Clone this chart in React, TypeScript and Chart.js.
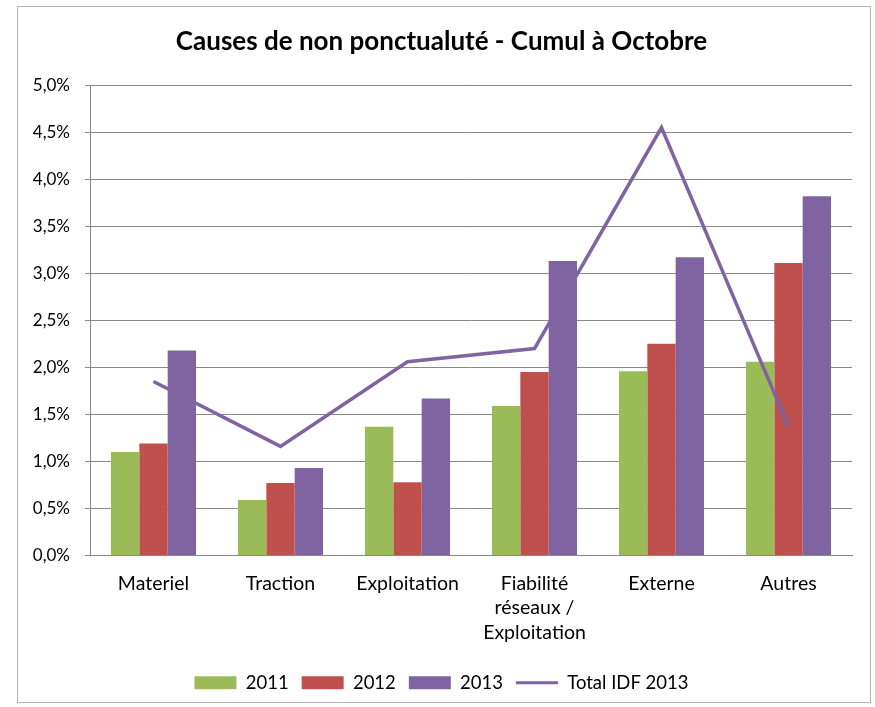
import React, { useEffect, useRef } from "react";
import { Chart, registerables } from "chart.js";

Chart.register(...registerables);

const categories: (string | string[])[] = [
  "Materiel",
  "Traction",
  "Exploitation",
  ["Fiabilité", "réseaux /", "Exploitation"],
  "Externe",
  "Autres",
];
const values2011 = [1.1, 0.59, 1.37, 1.59, 1.96, 2.06];
const values2012 = [1.19, 0.77, 0.78, 1.95, 2.25, 3.11];
const values2013 = [2.18, 0.93, 1.67, 3.13, 3.17, 3.82];
const totalIdf2013 = [1.85, 1.16, 2.06, 2.2, 4.55, 1.37];
const yTicksMax = 5;
const yTicksStep = 0.5;

const FONT = "Lato, 'Open Sans', sans-serif";
const GREEN = "#9BBB59";
const RED = "#C0504D";
const PURPLE = "#8064A2";
const GRID = "#888888";

export default function App() {
  const ref = useRef<HTMLCanvasElement | null>(null);

  useEffect(() => {
    if (!ref.current) return;
    const chart = new Chart(ref.current, {
      type: "bar",
      data: {
        labels: categories,
        datasets: [
          { type: "bar", label: "2011", data: values2011, backgroundColor: GREEN, order: 1 },
          { type: "bar", label: "2012", data: values2012, backgroundColor: RED, order: 1 },
          { type: "bar", label: "2013", data: values2013, backgroundColor: PURPLE, order: 1 },
          {
            type: "line",
            label: "Total IDF 2013",
            data: totalIdf2013,
            borderColor: PURPLE,
            backgroundColor: PURPLE,
            borderWidth: 3.5,
            pointRadius: 0,
            tension: 0,
            order: 0,
          } as any,
        ],
      },
      options: {
        responsive: false,
        animation: false,
        devicePixelRatio: 1,
        layout: { padding: { left: 31, right: 23, top: 0, bottom: 5 } },
        datasets: {
          bar: { categoryPercentage: 0.67, barPercentage: 1.0 },
        },
        plugins: {
          tooltip: { enabled: false },
          title: {
            display: true,
            text: "Causes de non ponctualuté - Cumul à Octobre",
            color: "#000",
            font: { family: FONT, size: 26, weight: "bold", lineHeight: 1.2 },
            padding: { top: 26, bottom: 28 },
          },
          legend: {
            position: "bottom",
            labels: {
              color: "#000",
              font: { family: FONT, size: 18.5 },
              usePointStyle: true,
              pointStyleWidth: 42,
              boxHeight: 13,
              padding: 13,
              generateLabels: (ch: any) =>
                ch.data.datasets.map((ds: any, i: number) => ({
                  text: ds.label,
                  fillStyle: ds.type === "line" ? ds.borderColor : ds.backgroundColor,
                  strokeStyle: ds.type === "line" ? ds.borderColor : ds.backgroundColor,
                  lineWidth: ds.type === "line" ? 3 : 0,
                  pointStyle: ds.type === "line" ? "line" : "rect",
                  hidden: false,
                  datasetIndex: i,
                  fontColor: "#000",
                })),
            },
          },
        },
        scales: {
          x: {
            grid: { display: false, drawTicks: false },
            border: { display: true, color: GRID, width: 1 },
            ticks: {
              color: "#000",
              font: { family: FONT, size: 19.5, lineHeight: 1.25 },
              padding: 16,
              maxRotation: 0,
              autoSkip: false,
            },
            afterFit: (scale: any) => {
              scale.height = 105;
            },
          },
          y: {
            min: 0,
            max: yTicksMax,
            grid: { color: GRID, lineWidth: 1, drawTicks: true, tickLength: 5 },
            border: { display: true, color: GRID, width: 1 },
            ticks: {
              stepSize: yTicksStep,
              color: "#000",
              font: { family: FONT, size: 17 },
              padding: 15,
              callback: (v: any) => Number(v).toFixed(1).replace(".", ",") + "%",
            },
            afterFit: (scale: any) => {
              scale.width = 59;
            },
          },
        },
      },
    });
    return () => chart.destroy();
  }, []);

  return (
    <div style={{ position: "fixed", left: 0, top: 0, width: 875, height: 707, background: "#fff" }}>
      <div
        style={{
          position: "absolute",
          left: 17,
          top: 6,
          width: 854,
          height: 697,
          border: "1px solid #b5b5b5",
          boxSizing: "border-box",
        }}
      />
      <canvas ref={ref} width={875} height={707} style={{ position: "absolute", left: 0, top: 0, display: "block" }} />
    </div>
  );
}
